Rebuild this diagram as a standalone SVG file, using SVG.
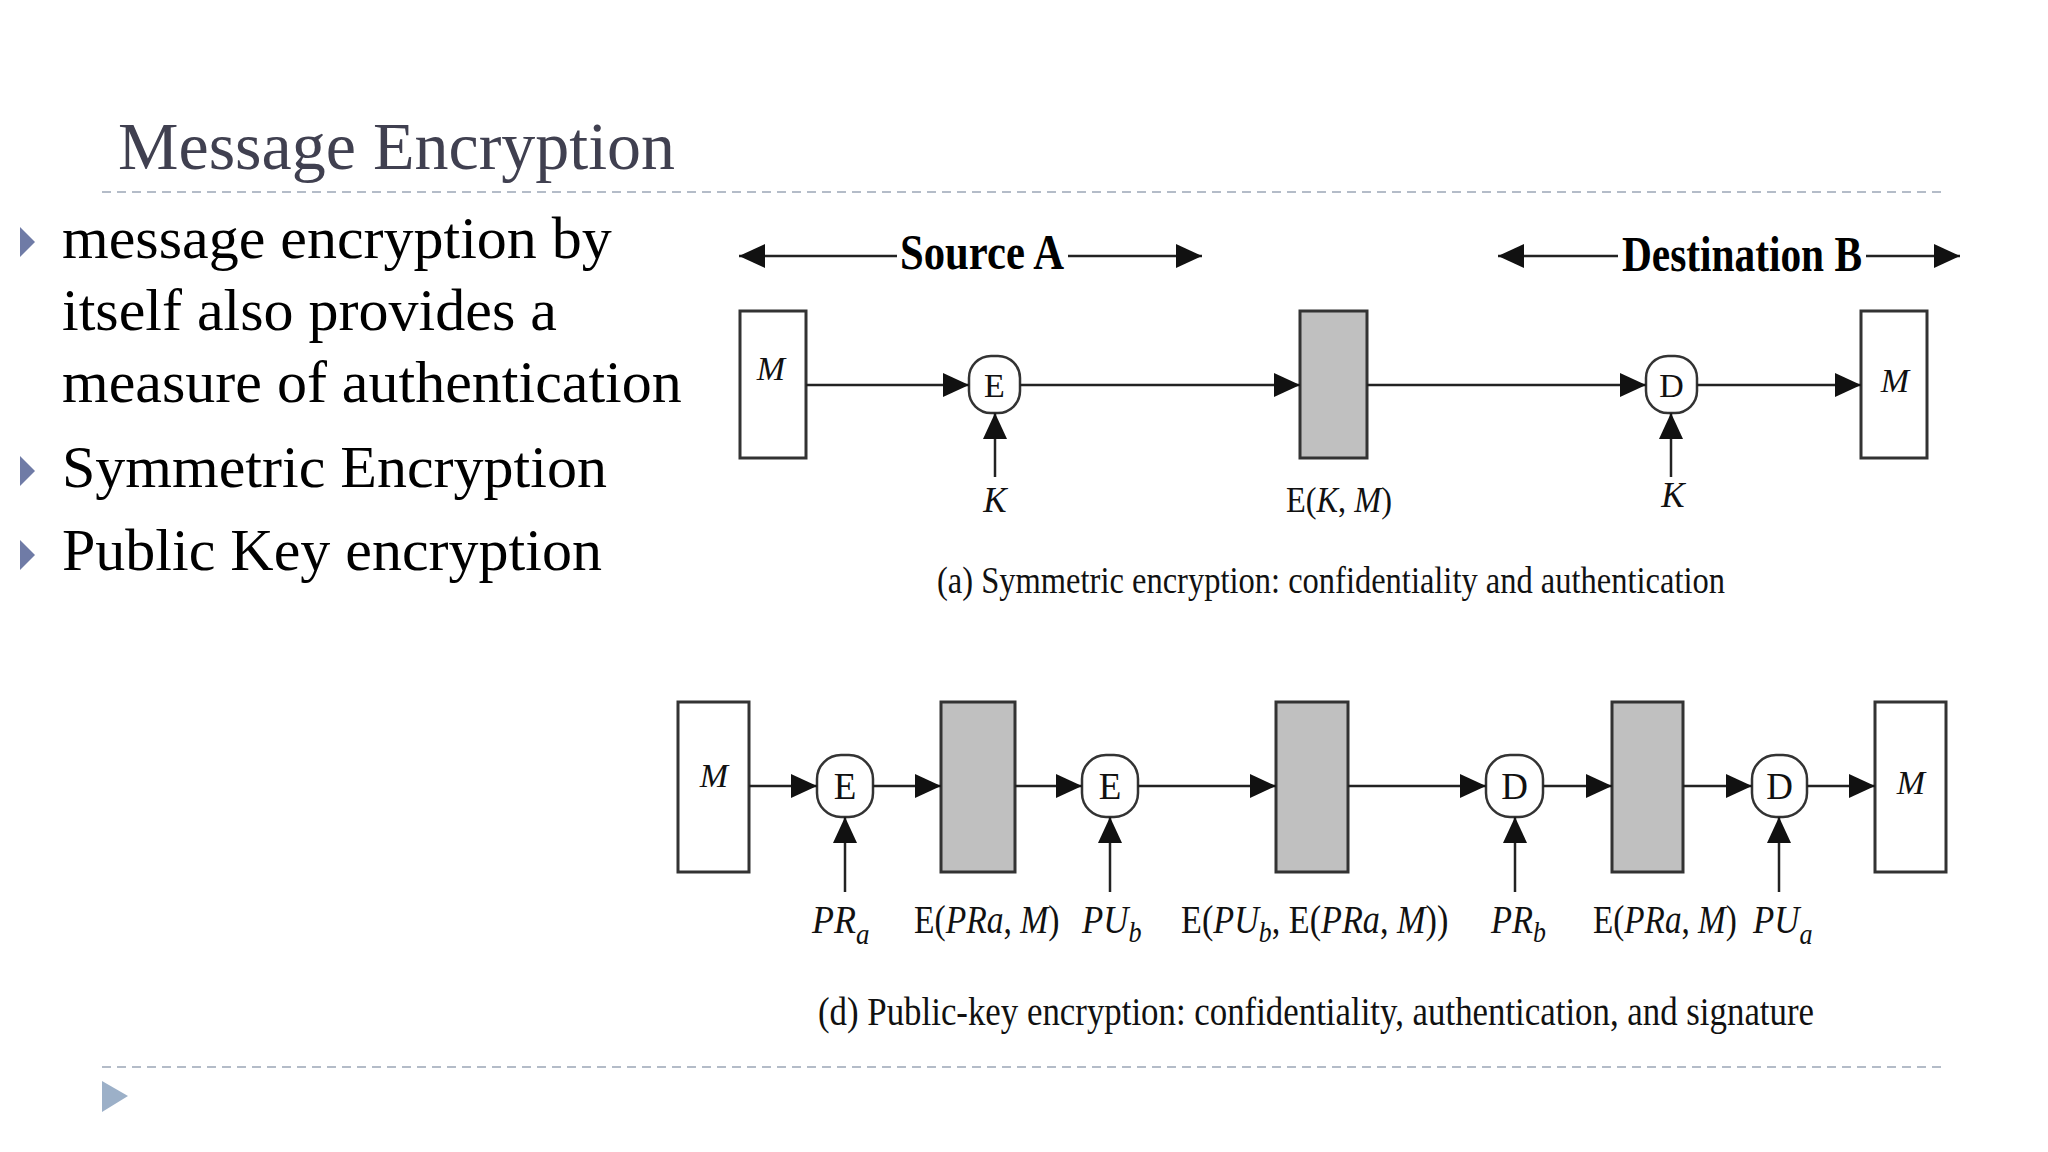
<svg xmlns="http://www.w3.org/2000/svg" width="2048" height="1152" viewBox="0 0 2048 1152">
<style>
.bg{fill:#ffffff}
.title{font-family:"Liberation Serif","Times New Roman",serif;font-size:68px;fill:#404050}
.bul{font-family:"Liberation Serif","Times New Roman",serif;font-size:60px;fill:#000}
.btri{fill:#6f7ba6}
.dash{stroke:#b4bcc8;stroke-width:2;stroke-dasharray:9 6;fill:none}
.box{fill:#ffffff;stroke:#333;stroke-width:3}
.gbox{fill:#c0c0c0;stroke:#333;stroke-width:3}
.op{fill:#ffffff;stroke:#333;stroke-width:2.5}
.ln{stroke:#222;stroke-width:2.5;fill:none}
.hd{font-family:"Liberation Serif","Times New Roman",serif;font-weight:bold;font-size:50px;fill:#000}
.lb{font-family:"Liberation Serif","Times New Roman",serif;fill:#111}
.kl{font-family:"Liberation Serif","Times New Roman",serif;fill:#111;font-size:40px}
.it{font-style:italic}
</style>
<defs>
<marker id="ah" markerUnits="userSpaceOnUse" markerWidth="26" markerHeight="24" refX="26" refY="12" orient="auto">
<path d="M0,0 L26,12 L0,24 z" fill="#111"/>
</marker>
</defs>
<rect class="bg" x="0" y="0" width="2048" height="1152"/>

<g id="title">
<text class="title" x="118" y="169">Message Encryption</text>
<line class="dash" x1="102" y1="192" x2="1946" y2="192"/>
</g>

<g id="bullets">
<path class="btri" d="M20,227 L20,257 L35,242 z"/>
<text class="bul" x="62" y="258">message encryption by</text>
<text class="bul" x="62" y="330">itself also provides a</text>
<text class="bul" x="62" y="402">measure of authentication</text>
<path class="btri" d="M20,456 L20,486 L35,471 z"/>
<text class="bul" x="62" y="487">Symmetric Encryption</text>
<path class="btri" d="M20,540 L20,570 L35,555 z"/>
<text class="bul" x="62" y="570">Public Key encryption</text>
</g>

<g id="footer">
<line class="dash" x1="102" y1="1067" x2="1946" y2="1067"/>
<path d="M102,1081 L102,1112 L128,1096 z" fill="#9cb0c8"/>
</g>

<!-- top diagram -->
<g id="sourceA">
<text class="hd" x="900" y="269" textLength="164" lengthAdjust="spacingAndGlyphs">Source A</text>
</g>
<g id="destB">
<text class="hd" x="1622" y="271" textLength="240" lengthAdjust="spacingAndGlyphs">Destination B</text>
</g>
<g id="a-M1">
<rect class="box" x="740" y="311" width="66" height="147"/>
<text class="lb it" x="771" y="380" font-size="34" text-anchor="middle">M</text>
</g>
<g id="a-E">
<rect class="op" x="969" y="356" width="51" height="57" rx="22" ry="22"/>
<text class="lb" x="994.5" y="397" font-size="34" text-anchor="middle">E</text>
</g>
<g id="a-C">
<rect class="gbox" x="1300" y="311" width="67" height="147"/>
</g>
<g id="a-D">
<rect class="op" x="1646" y="356" width="51" height="57" rx="22" ry="22"/>
<text class="lb" x="1671.5" y="397" font-size="34" text-anchor="middle">D</text>
</g>
<g id="a-M2">
<rect class="box" x="1861" y="311" width="66" height="147"/>
<text class="lb it" x="1895" y="392" font-size="34" text-anchor="middle">M</text>
</g>
<g id="a-labels">
<text class="lb it" x="995" y="512" font-size="35" text-anchor="middle">K</text>
<text class="lb" x="1286" y="512" font-size="35" textLength="106" lengthAdjust="spacingAndGlyphs">E(<tspan class="it">K</tspan>, <tspan class="it">M</tspan>)</text>
<text class="lb it" x="1673" y="507" font-size="35" text-anchor="middle">K</text>
<text class="lb" x="937" y="593" font-size="38" textLength="788" lengthAdjust="spacingAndGlyphs">(a) Symmetric encryption: confidentiality and authentication</text>
</g>

<!-- bottom diagram -->
<g id="d-M1">
<rect class="box" x="678" y="702" width="71" height="170"/>
<text class="lb it" x="714" y="787" font-size="34" text-anchor="middle">M</text>
</g>
<g id="d-E1">
<rect class="op" x="817" y="755" width="56" height="62" rx="24" ry="24"/>
<text class="lb" x="845" y="799" font-size="37" text-anchor="middle">E</text>
</g>
<g id="d-C1">
<rect class="gbox" x="941" y="702" width="74" height="170"/>
</g>
<g id="d-E2">
<rect class="op" x="1082" y="755" width="56" height="62" rx="24" ry="24"/>
<text class="lb" x="1110" y="799" font-size="37" text-anchor="middle">E</text>
</g>
<g id="d-C2">
<rect class="gbox" x="1276" y="702" width="72" height="170"/>
</g>
<g id="d-D1">
<rect class="op" x="1486" y="755" width="57" height="62" rx="24" ry="24"/>
<text class="lb" x="1514.5" y="799" font-size="37" text-anchor="middle">D</text>
</g>
<g id="d-C3">
<rect class="gbox" x="1612" y="702" width="71" height="170"/>
</g>
<g id="d-D2">
<rect class="op" x="1752" y="755" width="55" height="62" rx="24" ry="24"/>
<text class="lb" x="1779.5" y="799" font-size="37" text-anchor="middle">D</text>
</g>
<g id="d-M2">
<rect class="box" x="1875" y="702" width="71" height="170"/>
<text class="lb it" x="1911" y="794" font-size="34" text-anchor="middle">M</text>
</g>
<g id="d-labels">
<text class="kl it" transform="translate(812,933) scale(0.9,1)">PR<tspan font-size="30" dy="11">a</tspan></text>
<text class="kl" transform="translate(914,933) scale(0.84,1)">E(<tspan class="it">PRa</tspan>, <tspan class="it">M</tspan>)</text>
<text class="kl it" transform="translate(1082,933) scale(0.87,1)">PU<tspan font-size="30" dy="9">b</tspan></text>
<text class="kl" transform="translate(1181,933) scale(0.855,1)">E(<tspan class="it">PU</tspan><tspan class="it" font-size="30" dy="9">b</tspan><tspan dy="-9">, E(</tspan><tspan class="it">PRa</tspan>, <tspan class="it">M</tspan>))</text>
<text class="kl it" transform="translate(1491,933) scale(0.86,1)">PR<tspan font-size="30" dy="9">b</tspan></text>
<text class="kl" transform="translate(1593,933) scale(0.83,1)">E(<tspan class="it">PRa</tspan>, <tspan class="it">M</tspan>)</text>
<text class="kl it" transform="translate(1753,933) scale(0.87,1)">PU<tspan font-size="30" dy="11">a</tspan></text>
<text class="lb" x="818" y="1025" font-size="40" textLength="996" lengthAdjust="spacingAndGlyphs">(d) Public-key encryption: confidentiality, authentication, and signature</text>
</g>

<g id="connectors">
<line class="ln" x1="897" y1="256" x2="739" y2="256" marker-end="url(#ah)"/>
<line class="ln" x1="1068" y1="256" x2="1202" y2="256" marker-end="url(#ah)"/>
<line class="ln" x1="1618" y1="256" x2="1498" y2="256" marker-end="url(#ah)"/>
<line class="ln" x1="1866" y1="256" x2="1960" y2="256" marker-end="url(#ah)"/>

<line class="ln" x1="806" y1="385" x2="969" y2="385" marker-end="url(#ah)"/>
<line class="ln" x1="1020" y1="385" x2="1300" y2="385" marker-end="url(#ah)"/>
<line class="ln" x1="1367" y1="385" x2="1646" y2="385" marker-end="url(#ah)"/>
<line class="ln" x1="1697" y1="385" x2="1861" y2="385" marker-end="url(#ah)"/>
<line class="ln" x1="995" y1="477" x2="995" y2="413" marker-end="url(#ah)"/>
<line class="ln" x1="1671" y1="477" x2="1671" y2="413" marker-end="url(#ah)"/>

<line class="ln" x1="749" y1="786" x2="817" y2="786" marker-end="url(#ah)"/>
<line class="ln" x1="873" y1="786" x2="941" y2="786" marker-end="url(#ah)"/>
<line class="ln" x1="1015" y1="786" x2="1082" y2="786" marker-end="url(#ah)"/>
<line class="ln" x1="1138" y1="786" x2="1276" y2="786" marker-end="url(#ah)"/>
<line class="ln" x1="1348" y1="786" x2="1486" y2="786" marker-end="url(#ah)"/>
<line class="ln" x1="1543" y1="786" x2="1612" y2="786" marker-end="url(#ah)"/>
<line class="ln" x1="1683" y1="786" x2="1752" y2="786" marker-end="url(#ah)"/>
<line class="ln" x1="1807" y1="786" x2="1875" y2="786" marker-end="url(#ah)"/>
<line class="ln" x1="845" y1="892" x2="845" y2="817" marker-end="url(#ah)"/>
<line class="ln" x1="1110" y1="892" x2="1110" y2="817" marker-end="url(#ah)"/>
<line class="ln" x1="1515" y1="892" x2="1515" y2="817" marker-end="url(#ah)"/>
<line class="ln" x1="1779" y1="892" x2="1779" y2="817" marker-end="url(#ah)"/>
</g>
</svg>
